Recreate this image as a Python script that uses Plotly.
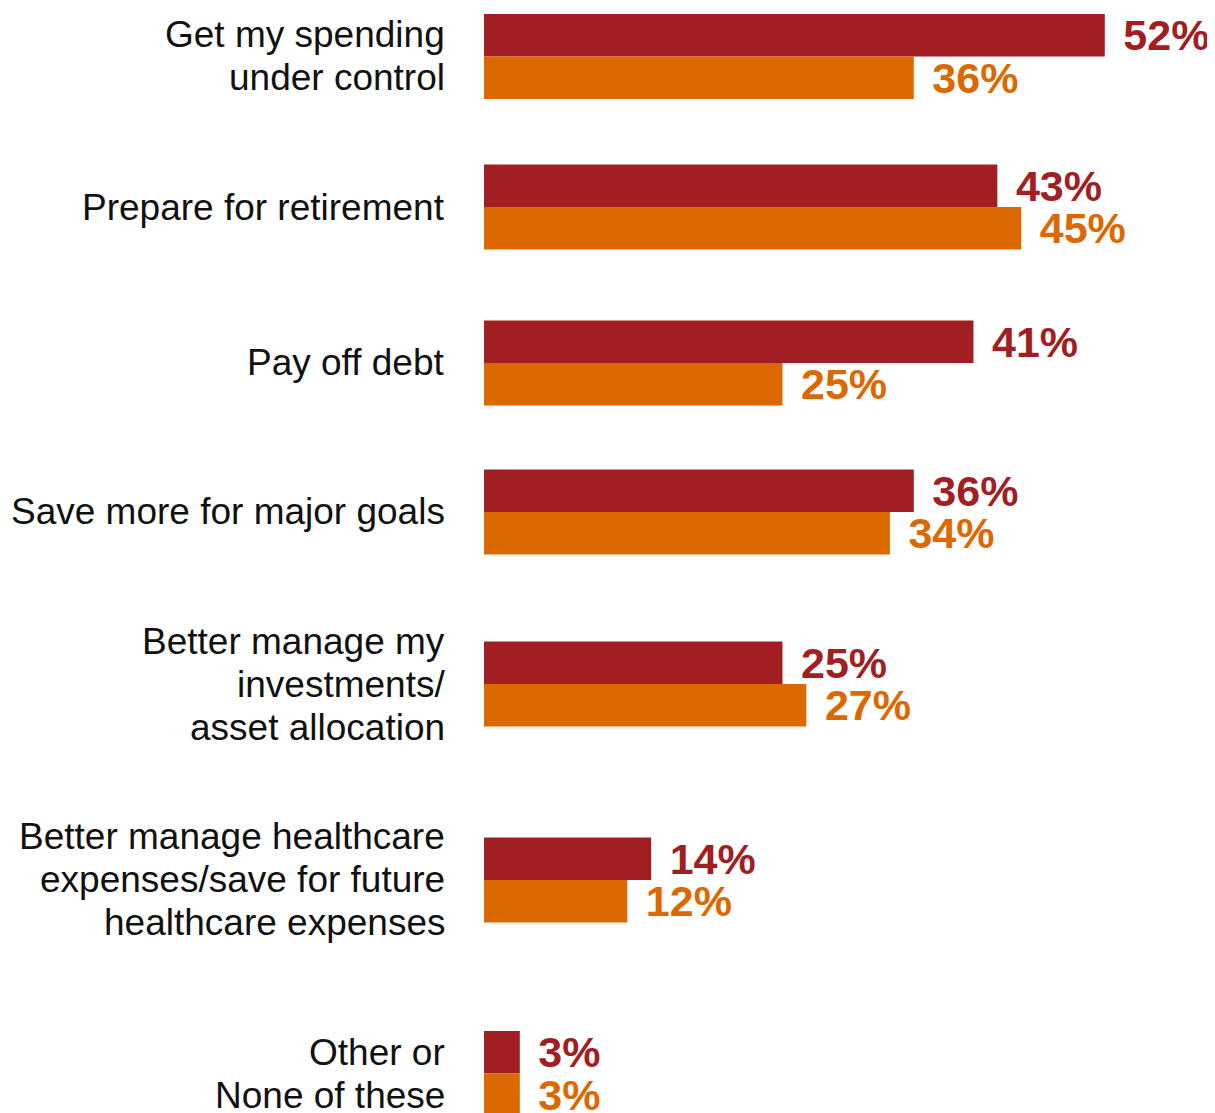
import plotly.graph_objects as go

categories = [
    "Get my spending<br>under control",
    "Prepare for retirement",
    "Pay off debt",
    "Save more for major goals",
    "Better manage my<br>investments/<br>asset allocation",
    "Better manage healthcare<br>expenses/save for future<br>healthcare expenses",
    "Other or<br>None of these",
]
series_a = [52, 43, 41, 36, 25, 14, 3]
series_b = [36, 45, 25, 34, 27, 12, 3]

# layout: vertical row positions (uneven spacing as in the original layout)
row_pos = [0, 0.888, 1.808, 2.687, 3.702, 4.858, 6.0]

RED = "#A11F22"
ORANGE = "#DC6900"
HALF = 0.251
LINE_PX = 43
LABEL_SIZE = 37

fig = go.Figure()
for vals, col, off in ((series_a, RED, -HALF), (series_b, ORANGE, 0.0)):
    fig.add_trace(go.Bar(
        y=row_pos, x=vals, orientation="h",
        width=HALF, offset=off,
        marker=dict(color=col, line=dict(width=0)),
        text=[f"\u00a0\u200a{v}%" for v in vals],
        textposition="outside",
        constraintext="none",
        textfont=dict(family="Liberation Sans", size=43, color=col, weight="bold"),
        cliponaxis=False,
        showlegend=False,
        hoverinfo="skip",
    ))

annotations = []
for cat, pos in zip(categories, row_pos):
    lines = cat.split("<br>")
    n = len(lines)
    for k, line in enumerate(lines):
        annotations.append(dict(
            text=line, xref="paper", x=0, xanchor="right", xshift=-37,
            yref="y", y=pos, yanchor="middle",
            yshift=((n - 1) / 2 - k) * LINE_PX,
            showarrow=False,
            font=dict(family="Liberation Sans", size=LABEL_SIZE, color="#111111"),
        ))

fig.update_layout(
    width=1215, height=1113,
    margin=dict(l=476, r=0, t=0, b=0),
    barmode="overlay",
    plot_bgcolor="white",
    paper_bgcolor="white",
    annotations=annotations,
)
fig.update_xaxes(range=[0, 61.9], visible=False, showgrid=False, zeroline=False)
fig.update_yaxes(
    range=[6.280, -0.286],
    visible=False, showgrid=False, zeroline=False,
)

fig.write_html("out.html")
